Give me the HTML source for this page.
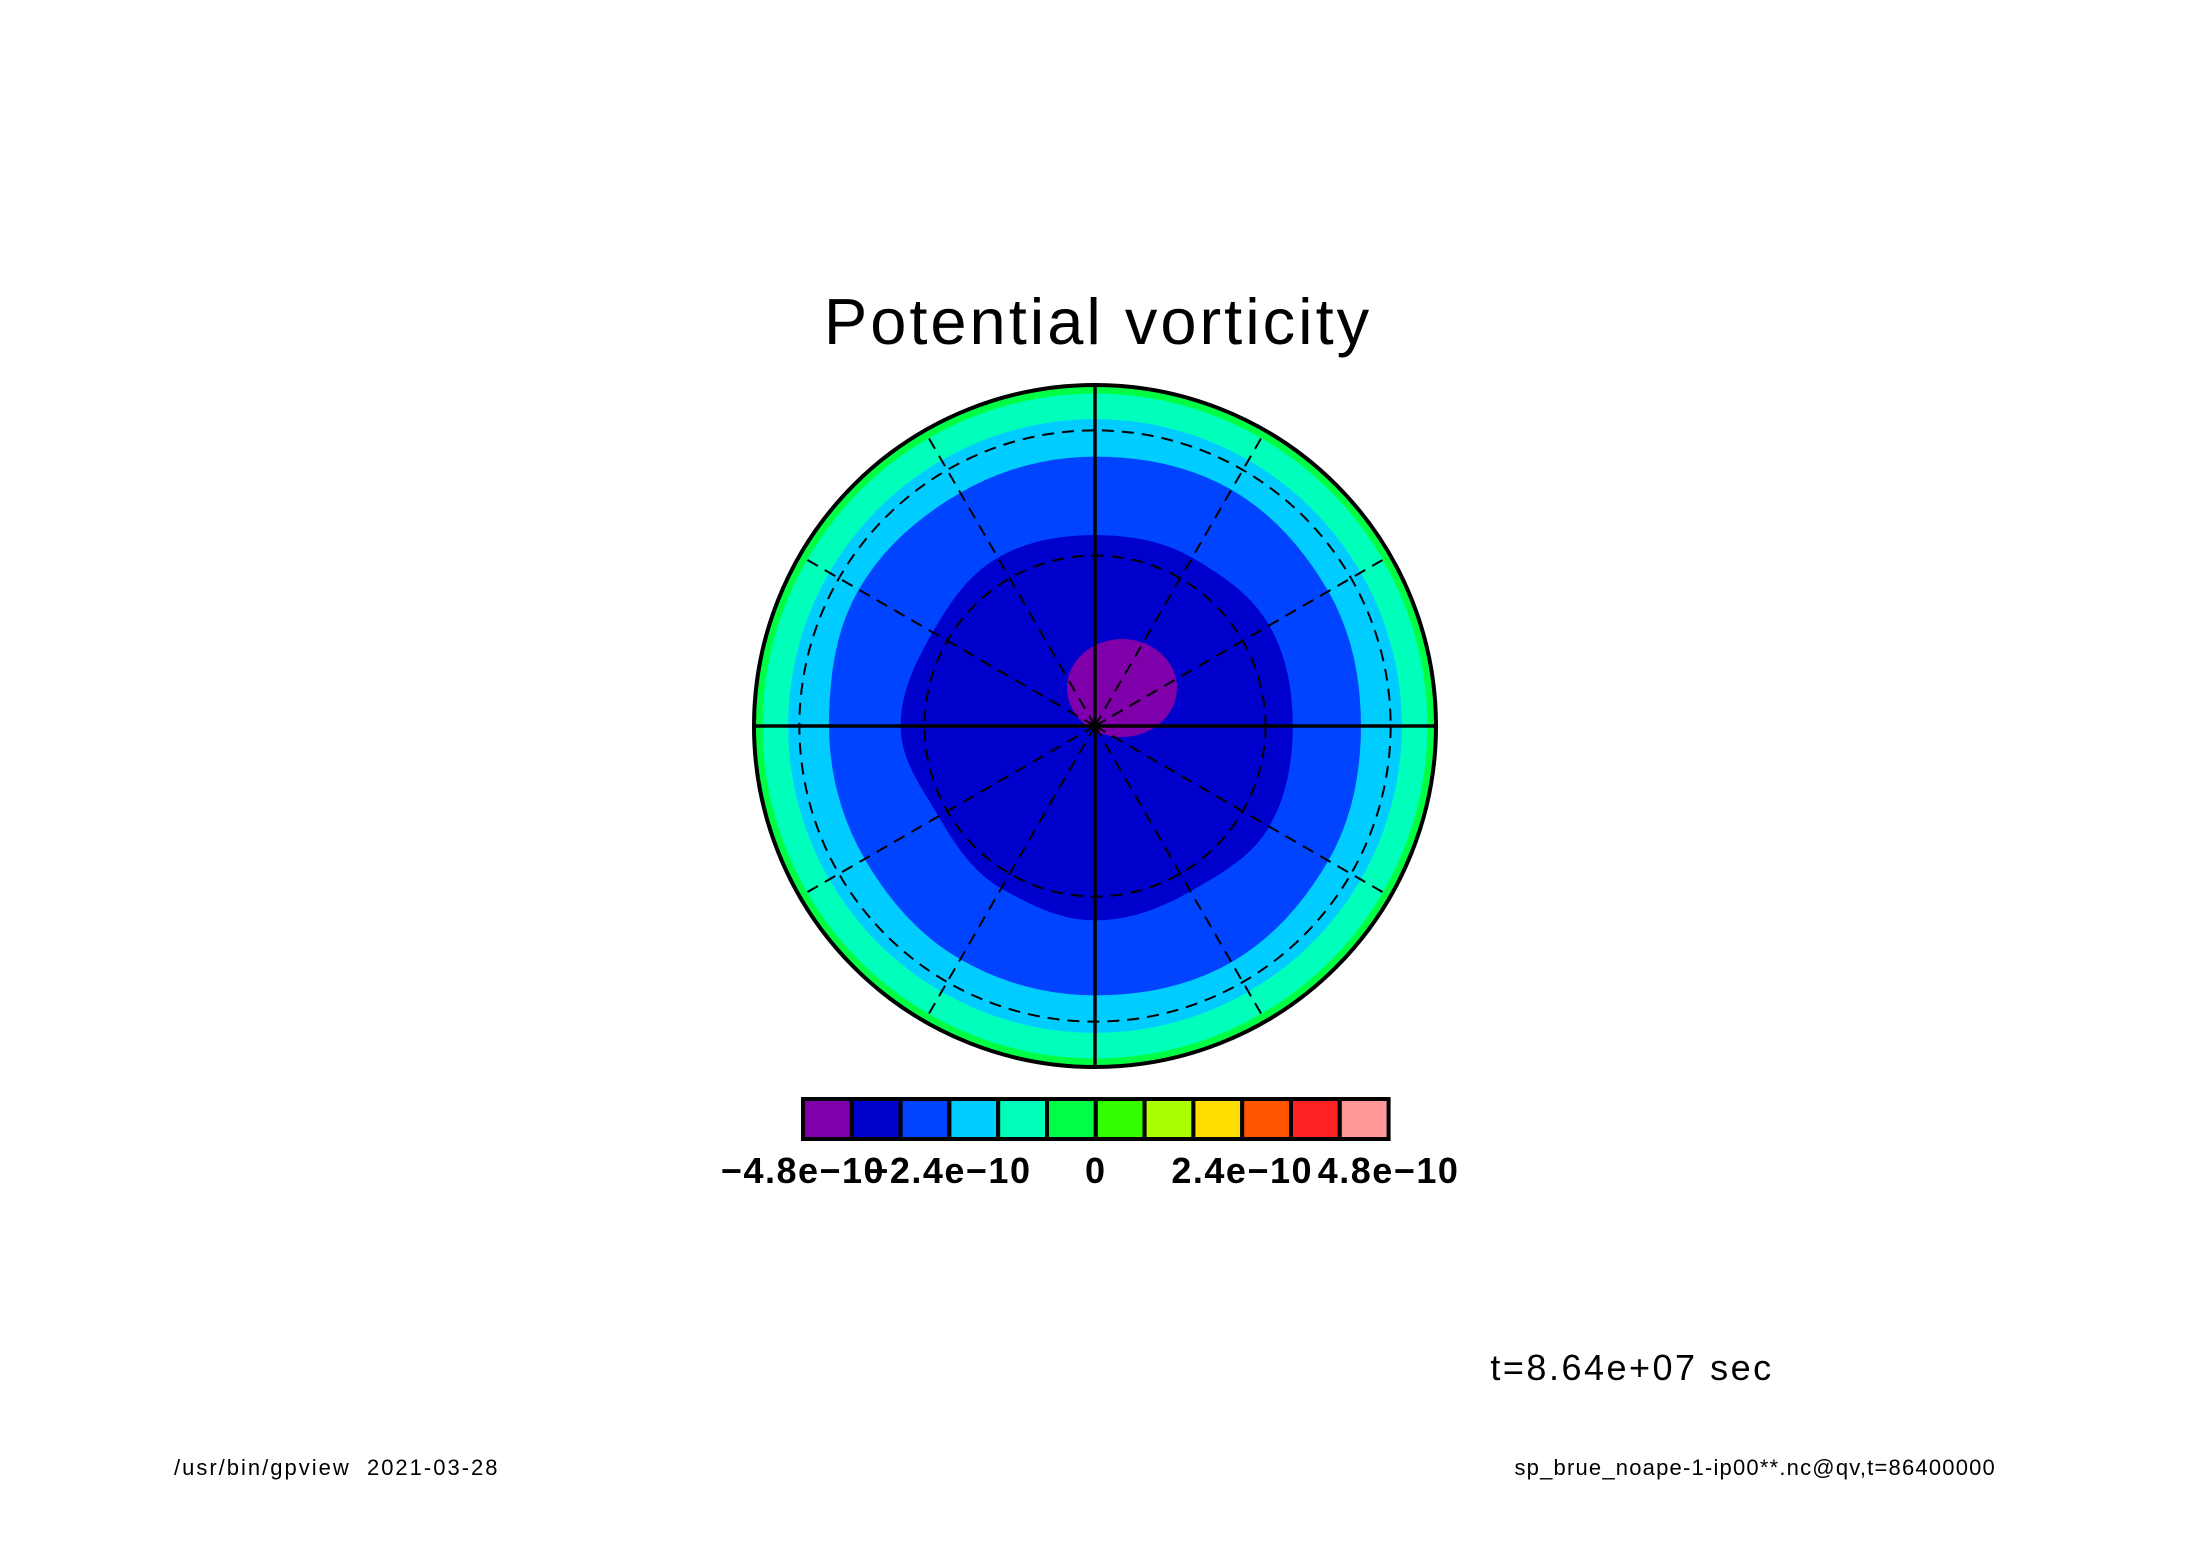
<!DOCTYPE html>
<html><head><meta charset="utf-8"><style>
html,body{margin:0;padding:0;background:#fff;}
svg{display:block;}
text{font-family:"Liberation Sans",sans-serif;}
</style></head><body>
<svg id="chart" width="2188" height="1546" viewBox="0 0 2188 1546" xmlns="http://www.w3.org/2000/svg">
<text x="1098" y="344" font-size="65" letter-spacing="3" text-anchor="middle">Potential vorticity</text>
<g id="plot"></g>
<g id="cbar"></g>
<text x="1632" y="1380" font-size="36" letter-spacing="2.5" text-anchor="middle">t=8.64e+07 sec</text>
<text x="174" y="1475" font-size="22" letter-spacing="2" xml:space="preserve">/usr/bin/gpview  2021-03-28</text>
<text x="1996" y="1475" font-size="22" letter-spacing="1.2" text-anchor="end">sp_brue_noape-1-ip00**.nc@qv,t=86400000</text>
</svg>
<script>
const levels=["-4.8e-10","-2.4e-10","0","2.4e-10","4.8e-10"];
const colors=["#7f00aa","#0000cd","#0044ff","#00ccff","#00ffbb","#00ff44","#33ff00","#aaff00","#ffdd00","#ff5500","#ff2222","#ff9999"];
const angles=[0,30,60,90,120,150,180,210,240,270,300,330];
const ringGreen=[1,1,1,1,1,1,1,1,1,1,1,1];
const ringAqua=[0.975,0.975,0.975,0.975,0.975,0.975,0.975,0.975,0.975,0.975,0.975,0.975];
const ringCyan=[0.90,0.90,0.90,0.90,0.90,0.90,0.90,0.90,0.90,0.90,0.90,0.90];
const ringBlue=[0.78,0.79,0.80,0.79,0.79,0.80,0.78,0.78,0.79,0.79,0.80,0.79];
const ringDark=[0.58,0.59,0.57,0.56,0.57,0.55,0.57,0.53,0.55,0.57,0.56,0.59];
const NS="http://www.w3.org/2000/svg";
const cx=1095,cy=726,R=341;
function px(a,r){return cx+R*r*Math.cos(a*Math.PI/180);}
function py(a,r){return cy-R*r*Math.sin(a*Math.PI/180);}
const plot=document.getElementById('plot');
function mk(tag,attrs,parent){const e=document.createElementNS(NS,tag);for(const k in attrs)e.setAttribute(k,attrs[k]);parent.appendChild(e);return e;}
function smooth(radii){
  let d="";const n=120;
  for(let i=0;i<=n;i++){const a=i*360/n;const f=a/30;const k=Math.floor(f)%12;const t=f-Math.floor(f);
    const r0=radii[k],r1=radii[(k+1)%12];const s=(1-Math.cos(t*Math.PI))/2;const r=r0+(r1-r0)*s;
    d+=(i?"L":"M")+px(a,r).toFixed(1)+","+py(a,r).toFixed(1);}
  return d+"Z";
}
const fills=[[ringGreen,colors[5],'fill-green'],[ringAqua,colors[4],'fill-aquamarine'],[ringCyan,colors[3],'fill-cyan'],[ringBlue,colors[2],'fill-blue'],[ringDark,colors[1],'fill-dark-blue']];
fills.forEach(f=>{const p=mk('path',{d:smooth(f[0]),fill:f[1]},plot);

});
const blob=mk('ellipse',{cx:cx+27,cy:cy-38,rx:55,ry:49,fill:colors[0]},plot);


[0.5,0.867].forEach(r=>{const c=mk('circle',{cx:cx,cy:cy,r:R*r,fill:'none',stroke:'#000','stroke-width':2,'stroke-dasharray':'12,8'},plot);

});
angles.forEach(a=>{if(a%90===0)return;const l=mk('line',{x1:cx,y1:cy,x2:px(a,1),y2:py(a,1),stroke:'#000','stroke-width':2,'stroke-dasharray':'12,8'},plot);

});
[[cx-R,cy,cx+R,cy],[cx,cy-R,cx,cy+R]].forEach(s=>{const l=mk('line',{x1:s[0],y1:s[1],x2:s[2],y2:s[3],stroke:'#000','stroke-width':3.5},plot);

});
const bd=mk('circle',{cx:cx,cy:cy,r:R,fill:'none',stroke:'#000','stroke-width':4},plot);


const cb=document.getElementById('cbar');
const bx=803,by=1099,bw=48.8,bh=40;
colors.forEach((c,i)=>{const r=mk('rect',{x:bx+i*bw,y:by,width:bw,height:bh,fill:c,stroke:'#000','stroke-width':4},cb);

});
levels.forEach((t,i)=>{const tx=mk('text',{x:bx+i*3*bw,y:1183,'font-size':36,'font-weight':'bold','letter-spacing':1.5,'text-anchor':'middle'},cb);tx.textContent=t.replace(/-/g,'\u2212');

});
</script>
</body></html>
